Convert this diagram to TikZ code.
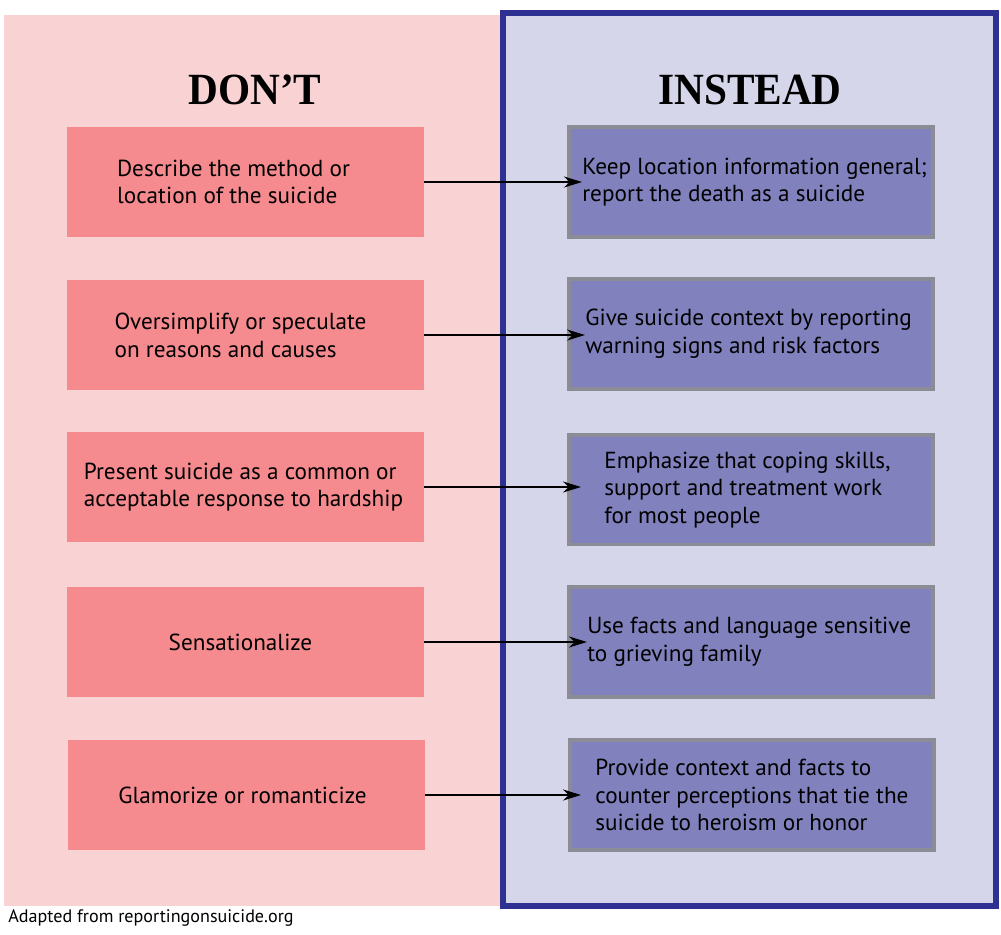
\documentclass[tikz,border=0pt]{standalone}
\usepackage{fontspec}
\setmainfont{PT Sans}
\newfontfamily\titlefont{Liberation Serif}
\usetikzlibrary{arrows.meta}
\definecolor{pinkbg}{HTML}{F9D3D4}
\definecolor{pinkbox}{HTML}{F58A8F}
\definecolor{bluebg}{HTML}{D5D6EA}
\definecolor{navy}{HTML}{2E3192}
\definecolor{bluebox}{HTML}{8181BE}
\definecolor{graybd}{HTML}{8C8C96}
\tikzset{
  px/.style={x=0.02cm,y=-0.02cm},
  dont/.style={rectangle,fill=pinkbox,minimum width=7.14cm,minimum height=2.2cm,inner sep=0pt},
  inst/.style={rectangle,fill=bluebox,draw=graybd,line width=0.08cm,minimum width=7.28cm,minimum height=2.2cm,inner sep=0pt},
  txt/.style={font=\fontsize{13.2}{15.8}\selectfont,align=left,inner sep=0pt,text=black},
  title/.style={font=\titlefont\bfseries\fontsize{23.5}{28}\selectfont,inner sep=0pt,yscale=1.08},
  arr/.style={-{Stealth[length=0.36cm,width=0.22cm]},line width=0.04cm,black},
}
\begin{document}
\begin{tikzpicture}[px]
\useasboundingbox[fill=white] (0,0) rectangle (1001,934);
\fill[pinkbg] (4,15) rectangle (503,906);
\draw[navy,fill=bluebg,line width=0.12cm] (503,13) rectangle (996,906);
\node[title] (tdont) at (255,90) {DON’T};
\node[title] (tinst) at (750,90) {INSTEAD};
% left boxes
\node[dont] (l1) at (245.5,182) {};
\node[dont] (l2) at (245.5,335) {};
\node[dont] (l3) at (245.5,487) {};
\node[dont] (l4) at (245.5,642) {};
\node[dont] (l5) at (246.5,795) {};
\node[txt] (l1t) at ([xshift=-0.24cm]l1.center) {Describe the method or\\location of the suicide};
\node[txt] (l2t) at ([xshift=-0.1cm]l2.center) {Oversimplify or speculate\\on reasons and causes};
\node[txt] (l3t) at ([xshift=-0.04cm]l3.center) {Present suicide as a common or\\acceptable response to hardship};
\node[txt] (l4t) at ([xshift=-0.1cm]l4.center) {Sensationalize};
\node[txt] (l5t) at ([xshift=-0.08cm]l5.center) {Glamorize or romanticize};
% right boxes
\node[inst] (r1) at (751,182) {};
\node[inst] (r2) at (751,334) {};
\node[inst] (r3) at (751,489.5) {};
\node[inst] (r4) at (751,642) {};
\node[inst] (r5) at (752,795) {};
\node[txt,anchor=west] (r1t) at (582,182) {Keep location information general;\\report the death as a suicide};
\node[txt,anchor=west] (r2t) at (585,334) {Give suicide context by reporting\\warning signs and risk factors};
\node[txt,anchor=west] (r3t) at (604,490) {Emphasize that coping skills,\\support and treatment work\\for most people};
\node[txt,anchor=west] (r4t) at (587,642) {Use facts and language sensitive\\to grieving family};
\node[txt,anchor=west] (r5t) at (595,795) {Provide context and facts to\\counter perceptions that tie the\\suicide to heroism or honor};
% arrows
\draw[arr] (l1.east) -- (l1.east -| r1t.west);
\draw[arr] (l2.east) -- (l2.east -| r2t.west);
\draw[arr] (l3.east) -- (l3.east -| 581,0);
\draw[arr] (l4.east) -- (l4.east -| r4t.west);
\draw[arr] (l5.east) -- (l5.east -| 581,0);
\node[font=\fontsize{10.3}{12}\selectfont,anchor=west,inner sep=0pt] (foot) at (8,918) {Adapted from reportingonsuicide.org};
\end{tikzpicture}
\end{document}
